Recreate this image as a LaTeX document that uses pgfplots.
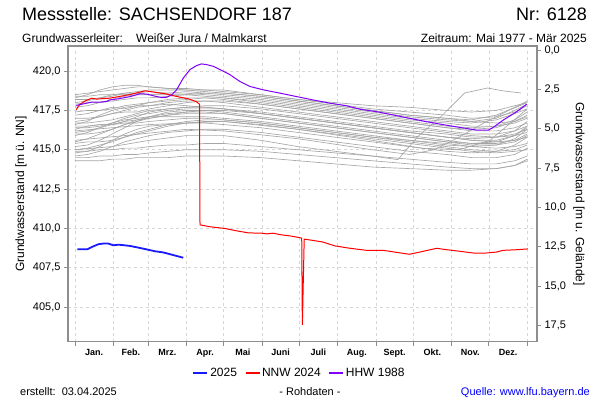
\documentclass[border=0pt]{standalone}
\usepackage{pgfplots}
\pgfplotsset{compat=1.18}
\usepackage{pgfplotstable}
\usepackage{fontspec}
\setmainfont{Liberation Sans}
\definecolor{framegray}{HTML}{8E8E8E}
\definecolor{gridgray}{HTML}{D6D6D6}
\definecolor{linegray}{HTML}{A6A6A6}
\definecolor{nnwred}{HTML}{FF0000}
\definecolor{hhwpurple}{HTML}{8000FF}
\definecolor{curblue}{HTML}{1A1AFF}

\pgfplotstableread{
day A1 A2 A3 A4 A5 A6 A7 B1 B2 B3 B4 B5 B6 B7 B8 B9 B10 B11 B12 C1 C2 C3 C4 C5 C6 D1 D2 D3
0   418.5 418.3 418.2 418.0 417.9 418.4 417.7 417.4 417.2 417.0 416.8 416.7 416.6 416.4 416.3 416.1 416.0 415.9 416.5 415.5 415.2 415.0 414.8 414.6 415.4 414.9 414.5 414.3
10  418.6 418.5 418.2 418.1 418.0 418.4 417.8 417.5 417.3 417.0 416.9 416.7 416.8 416.4 416.5 416.2 416.0 416.1 416.5 415.7 415.3 415.1 414.9 414.7 415.5 414.9 414.5 414.3
20  418.7 418.8 418.3 418.3 418.0 418.5 418.0 417.5 417.5 417.1 417.1 416.8 417.2 416.5 416.6 416.4 416.1 416.4 416.6 416.0 415.6 415.3 415.2 414.9 415.5 415.0 414.6 414.3
30  418.8 419.0 418.4 418.5 418.1 418.5 418.2 417.6 417.7 417.3 417.3 416.9 417.5 416.7 416.6 416.6 416.3 416.7 416.6 416.3 416.0 415.5 415.6 415.2 415.6 415.0 414.6 414.4
40  418.9 419.1 418.6 418.5 418.2 418.6 418.4 417.8 417.6 417.5 417.4 417.1 417.7 417.0 416.8 416.8 416.6 416.9 416.7 416.6 416.4 415.8 416.0 415.5 415.8 415.1 414.7 414.4
50  419.0 419.1 418.7 418.6 418.3 418.6 418.5 417.9 417.8 417.7 417.4 417.3 417.8 417.2 417.1 416.9 416.8 417.0 416.7 416.9 416.8 416.1 416.3 415.7 416.0 415.1 414.7 414.5
60  419.0 419.0 418.8 418.7 418.3 418.5 418.5 418.0 418.0 417.8 417.6 417.5 417.8 417.3 417.4 417.0 417.0 417.1 416.8 417.1 417.1 416.3 416.5 415.9 416.2 415.2 414.8 414.5
75  418.9 418.9 418.8 418.6 418.4 418.5 418.6 418.1 418.2 418.0 417.8 417.6 417.9 417.5 417.6 417.2 417.2 417.1 416.9 417.3 417.4 416.6 416.6 416.1 416.5 415.3 414.9 414.5
90  418.9 418.8 418.8 418.6 418.5 418.5 418.7 418.2 418.3 418.1 418.0 417.7 417.8 417.6 417.7 417.4 417.3 417.1 417.0 417.4 417.5 416.8 416.7 416.2 416.7 415.3 415.0 414.6
105 418.8 418.7 418.8 418.5 418.6 418.4 418.6 418.3 418.3 418.1 418.1 417.8 417.7 417.6 417.7 417.5 417.3 417.1 417.0 417.4 417.5 416.9 416.7 416.3 416.8 415.4 415.0 414.6
120 418.8 418.6 418.7 418.4 418.6 418.3 418.5 418.3 418.2 418.1 418.0 417.8 417.6 417.6 417.6 417.5 417.3 417.0 416.9 417.3 417.4 416.9 416.6 416.3 416.8 415.4 415.0 414.6
150 418.5 418.4 418.5 418.2 418.4 418.1 418.3 418.0 417.9 417.9 417.7 417.6 417.3 417.4 417.3 417.3 417.0 416.8 416.7 417.0 417.1 416.7 416.4 416.1 416.6 415.2 414.9 414.5
180 418.2 418.1 418.2 417.9 418.1 417.8 418.0 417.7 417.6 417.6 417.4 417.3 417.0 417.1 417.0 417.0 416.7 416.5 416.4 416.7 416.8 416.4 416.1 415.8 416.3 415.0 414.7 414.3
210 417.9 417.8 418.0 417.6 417.8 417.5 417.7 417.4 417.3 417.3 417.1 417.0 416.7 416.8 416.7 416.7 416.4 416.2 416.1 416.4 416.5 416.1 415.8 415.5 416.0 414.8 414.5 414.1
240 417.6 417.5 417.8 417.3 417.5 417.2 417.4 417.1 417.0 417.0 416.8 416.7 416.4 416.5 416.4 416.4 416.1 415.9 415.8 416.1 416.2 415.8 415.5 415.2 415.7 414.6 414.3 413.9
270 417.4 417.2 417.7 417.0 417.2 416.9 417.1 416.8 416.7 416.7 416.5 416.4 416.1 416.2 416.1 416.1 415.8 415.6 415.6 415.8 415.9 415.5 415.2 414.9 415.4 414.4 414.1 413.8
300 417.2 417.0 417.5 416.8 417.0 416.7 416.9 416.5 416.4 416.4 416.2 416.1 415.8 416.0 415.8 415.8 415.5 415.3 415.4 415.5 415.6 415.2 414.9 414.7 415.1 414.2 413.9 413.7
320 417.0 416.9 417.4 416.7 416.8 416.5 416.8 416.4 416.2 416.3 416.0 415.9 415.7 415.8 415.6 415.6 415.4 415.2 415.2 415.3 415.4 415.0 414.8 414.5 414.9 414.1 413.8 413.7
340 417.1 417.2 417.5 416.9 416.7 416.5 417.0 416.5 416.2 416.4 416.0 415.8 415.8 415.8 415.5 415.6 415.4 415.3 415.1 415.3 415.5 414.9 414.9 414.5 414.8 414.1 413.8 413.8
355 417.4 417.7 417.8 417.3 416.8 416.7 417.5 416.9 416.4 416.8 416.2 415.9 416.2 416.0 415.6 415.9 415.6 415.7 415.2 415.5 415.9 415.0 415.3 414.7 414.9 414.3 414.0 414.0
365 417.8 418.1 418.0 417.6 417.1 417.0 417.9 417.4 416.7 417.2 416.5 416.1 416.8 416.3 415.8 416.4 416.0 416.3 415.4 415.9 416.5 415.3 415.8 415.1 415.0 414.6 414.4 414.3
}\grays

\begin{document}
\begin{tikzpicture}[x=1pt,y=1pt]
\useasboundingbox (0,0) rectangle (600,400);

% headers
\node[anchor=base west, inner sep=0pt, font=\fontsize{18}{20}\selectfont] at (22,379) {Messstelle: SACHSENDORF 187};
\node[anchor=base east, inner sep=0pt, font=\fontsize{18}{20}\selectfont] at (587,379) {Nr: 6128};
\node[anchor=base west, inner sep=0pt, font=\fontsize{12}{14}\selectfont] at (22,357) {Grundwasserleiter:};
\node[anchor=base west, inner sep=0pt, font=\fontsize{12}{14}\selectfont] at (136,357) {Weißer Jura / Malmkarst};
\node[anchor=base east, inner sep=0pt, font=\fontsize{12}{14}\selectfont] at (587,357) {Zeitraum: Mai 1977 - Mär 2025};

% footers
\node[anchor=base west, inner sep=0pt, font=\fontsize{11}{13}\selectfont] at (20,5) {erstellt:\ \ 03.04.2025};
\node[anchor=base, inner sep=0pt, font=\fontsize{11}{13}\selectfont] at (310,5) {- Rohdaten -};
\node[anchor=base east, inner sep=0pt, font=\fontsize{11}{13}\selectfont, text=blue] at (590,5) {Quelle: www.lfu.bayern.de};

% axis labels
\node[rotate=90, inner sep=0pt, font=\fontsize{12}{14}\selectfont] at (21,206) {Grundwasserstand [m ü. NN]};
\node[rotate=-90, inner sep=0pt, font=\fontsize{12}{14}\selectfont] at (579,206) {Grundwasserstand [m u. Gelände]};

\begin{axis}[
  at={(68pt,58.5pt)}, anchor=south west,
  scale only axis, width=469pt, height=295.5pt,
  xmin=-5.65, xmax=372.9, ymin=402.8, ymax=421.6,
  axis line style={draw=framegray, line width=1.2pt},
  tick style={draw=framegray, line width=0.8pt},
  major tick length=4pt, tick align=outside,
  xtick pos=bottom, ytick pos=left,
  xtick={0,31,59,90,120,151,181,212,243,273,304,334,365},
  xticklabels={},
  extra x ticks={15.5,45,74.5,105,135.5,166,196.5,227.5,258,288.5,319,349.5},
  extra x tick labels={Jan.,Feb.,Mrz.,Apr.,Mai,Juni,Juli,Aug.,Sept.,Okt.,Nov.,Dez.},
  extra x tick style={major tick length=0pt, grid=none,
     tick label style={font=\bfseries\fontsize{9}{11}\selectfont, yshift=-4pt}},
  ytick={405,407.5,410,412.5,415,417.5,420},
  yticklabels={{405,0},{407,5},{410,0},{412,5},{415,0},{417,5},{420,0}},
  yticklabel style={font=\fontsize{11}{13}\selectfont},
  grid=major,
  grid style={draw=gridgray, line width=0.6pt, dash pattern=on 3pt off 3pt},
  legend style={at={(0.4936,-0.1066)}, anchor=center, draw=none, fill=none,
     legend columns=3, font=\fontsize{12}{14}\selectfont,
     /tikz/every even column/.append style={column sep=6pt}},
  legend image code/.code={\draw[#1] (0pt,0pt) -- (14pt,0pt);},
]
\addlegendimage{draw=curblue, line width=1.8pt}
\addlegendentry{2025}
\addlegendimage{draw=nnwred, line width=1.1pt}
\addlegendentry{NNW 2024}
\addlegendimage{draw=hhwpurple, line width=1.1pt}
\addlegendentry{HHW 1988}

\pgfplotsinvokeforeach{A1,A2,A3,A4,A5,A6,A7,B1,B2,B3,B4,B5,B6,B7,B8,B9,B10,B11,B12,C1,C2,C3,C4,C5,C6,D1,D2,D3}{
  \addplot[linegray, line width=0.65pt, forget plot] table[x=day, y=#1] {\grays};
}
\addplot[linegray, line width=0.65pt, forget plot] coordinates {(0,415.0)(30,415.2)(60,415.6)(90,415.9)(120,415.9)(150,415.6)(180,415.2)(210,414.9)(240,414.6)(260.6,414.37)(277,415.86)(295.6,417.13)(314.5,418.61)(333,418.93)(345,418.75)(360,418.61)};
\addplot[linegray, line width=0.65pt, forget plot] coordinates {(0,415.6)(40,415.9)(90,416.3)(120,416.2)(180,415.7)(240,415.0)(270,414.7)(290,415.0)(310,415.8)(330,416.7)(350,417.5)(365,418.0)};
\addplot[linegray, line width=0.65pt, forget plot] coordinates {(0,416.2)(60,416.6)(120,416.8)(180,416.3)(240,415.6)(280,415.1)(310,415.0)(335,415.6)(350,416.6)(365,417.6)};

% NNW 2024
\addplot[nnwred, line width=1pt, forget plot] coordinates {
(1,417.55)(3.5,417.85)(8,418.1)(13.5,418.28)(17.5,418.22)(22,418.25)(28,418.28)(36,418.39)(46,418.54)(54,418.7)(56.5,418.75)(66,418.64)(74,418.54)(82,418.39)(91.5,418.24)(98,418.06)(99.5,417.96)(100.5,417.9)(100.9,410.22)(105,410.16)(109,410.1)(121,409.99)(130.5,409.84)(140,409.71)(150.7,409.69)(154.7,409.65)(160,409.69)(165.5,409.6)(175,409.5)(181,409.41)(183,409.38)(183.5,403.86)(185,409.31)(189.7,409.26)(200,409.13)(209.9,408.88)(222,408.73)(235.4,408.6)(248.8,408.6)(259.6,408.47)(270,408.35)(278.4,408.49)(291.9,408.73)(300,408.64)(310.7,408.54)(321.5,408.43)(332,408.43)(340,408.49)(345.6,408.6)(356.5,408.64)(365.5,408.69)};

% HHW 1988
\addplot[hhwpurple, line width=1pt, forget plot] coordinates {
(1,417.82)(9.4,417.96)(13.5,418.03)(20,418.03)(25.6,418.07)(28,418.17)(35,418.24)(44.4,418.38)(52.5,418.56)(58,418.54)(66,418.38)(70,418.32)(74,418.34)(78,418.49)(82,418.81)(87.4,419.56)(92.8,420.1)(98,420.35)(102,420.46)(106,420.42)(111.6,420.31)(117,420.1)(125,419.78)(133,419.35)(141,419.03)(152,418.81)(165.5,418.6)(179,418.38)(192,418.17)(206,417.96)(219,417.8)(230,417.58)(245,417.4)(257,417.21)(270,417.0)(284,416.78)(297,416.6)(310.7,416.42)(324,416.25)(333.6,416.25)(337.6,416.42)(345.7,416.89)(356.5,417.42)(364.6,417.9)};

% 2025
\addplot[curblue, line width=1.8pt, forget plot] coordinates {
(1.9,408.67)(10,408.67)(13.5,408.81)(18.9,408.99)(22.8,409.03)(26.9,409.03)(31,408.92)(35,408.96)(39,408.93)(44.4,408.88)(52.5,408.75)(59,408.64)(64.6,408.54)(71,408.47)(79.3,408.3)(87.4,408.13)};
\end{axis}

\begin{axis}[
  at={(68pt,58.5pt)}, anchor=south west,
  scale only axis, width=469pt, height=295.5pt,
  xmin=-5.65, xmax=372.9, ymin=-0.27, ymax=18.53, y dir=reverse,
  axis y line*=right, axis x line=none,
  axis line style={draw=framegray, line width=1.2pt},
  tick style={draw=framegray, line width=0.8pt},
  major tick length=4pt, tick align=outside,
  ytick={0,2.5,5,7.5,10,12.5,15,17.5},
  yticklabels={{0,0},{2,5},{5,0},{7,5},{10,0},{12,5},{15,0},{17,5}},
  yticklabel style={font=\fontsize{11}{13}\selectfont},
]
\addplot[draw=none, forget plot] coordinates {(0,0)};
\end{axis}
\end{tikzpicture}
\end{document}
